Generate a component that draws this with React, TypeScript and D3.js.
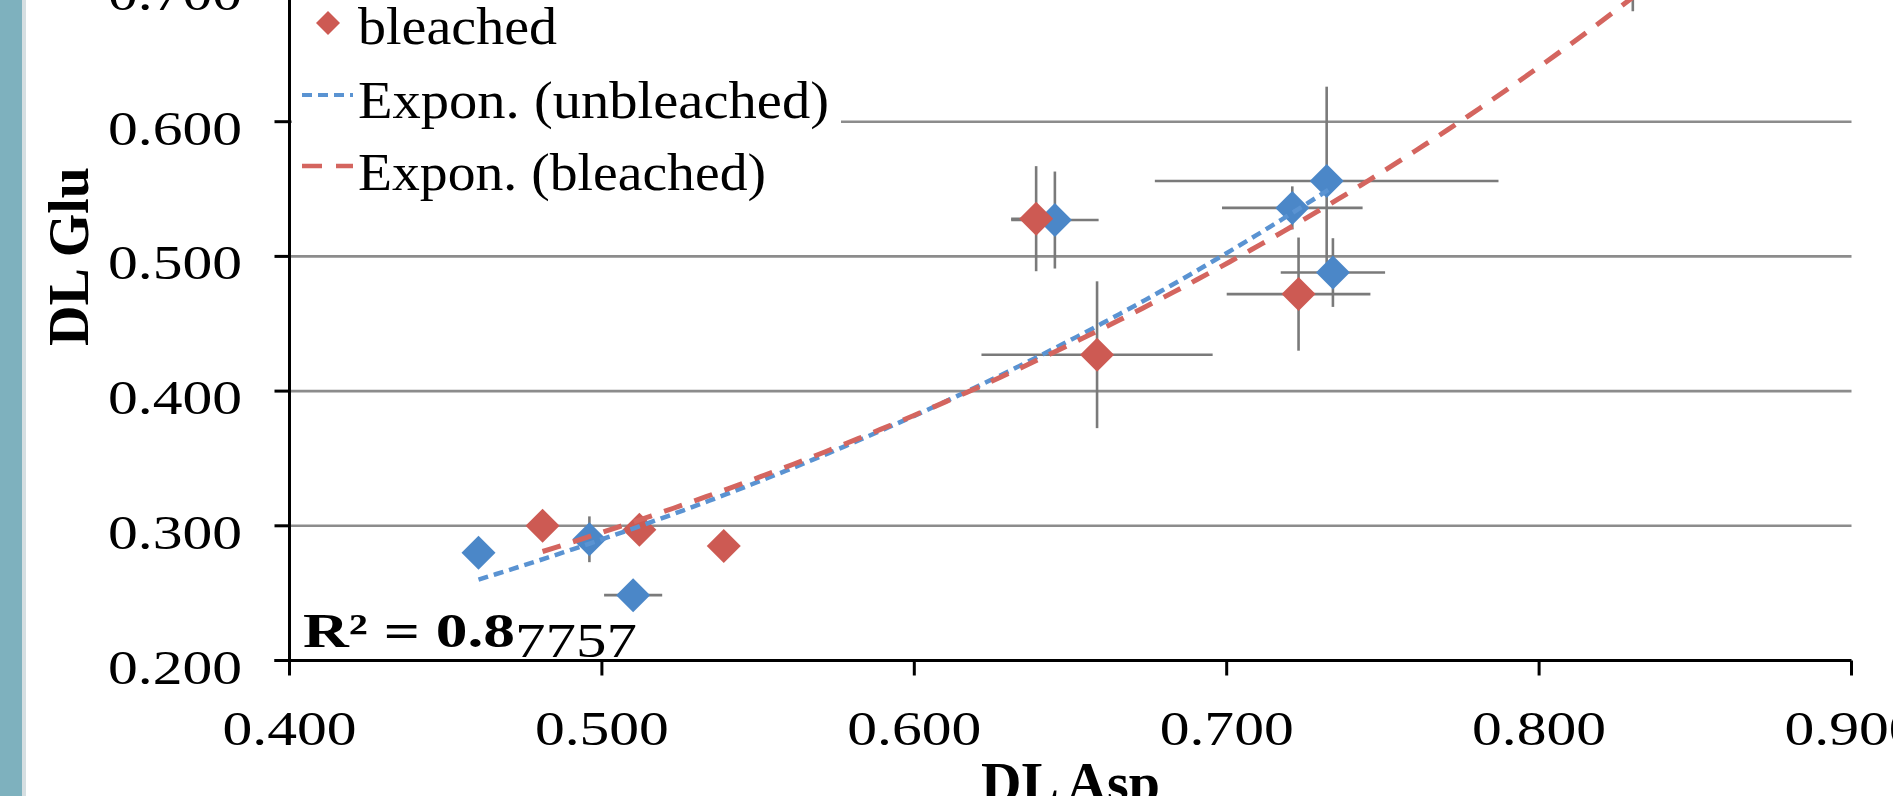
import React from 'react';
import * as d3 from 'd3';

// ---- data ----
const unbleachedX = [0.4605, 0.496, 0.51, 0.645, 0.721, 0.732, 0.734];
const unbleachedY = [0.28, 0.29, 0.2485, 0.527, 0.536, 0.556, 0.488];
const unbleachedXErr = [0, 0.004, 0.0093, 0.014, 0.0225, 0.055, 0.0167];
const unbleachedYErr = [0, 0.017, 0, 0.036, 0.016, 0.07, 0.0255];

const bleachedX = [0.481, 0.512, 0.539, 0.639, 0.6585, 0.723, 0.83];
const bleachedY = [0.3, 0.297, 0.285, 0.528, 0.427, 0.472, 0.705];
const bleachedXErr = [0, 0, 0, 0.008, 0.037, 0.023, 0];
const bleachedYErr = [0, 0, 0, 0.039, 0.0545, 0.042, 0.023];

const xTicks = [0.4, 0.5, 0.6, 0.7, 0.8, 0.9];
const yTicks = [0.2, 0.3, 0.4, 0.5, 0.6, 0.7];
const gridTicks = [0.3, 0.4, 0.5, 0.6, 0.7];
const xTitle = 'DL Asp';
const yTitle = 'DL Glu';
const legendLabels = ['unbleached', 'bleached', 'Expon. (unbleached)', 'Expon. (bleached)'];
const r2Bold = 'R² = 0.8';
const r2Rest = '7757';

const BLUE = '#4b87c8';
const RED = '#cd5a53';
const BLUE_TREND = '#5a93d2';
const RED_TREND = '#d4655f';
const GRID = '#8c8c8c';
const ERR = '#7a7a7a';

function expFit(xs: number[], ys: number[]) {
  const ly = ys.map(Math.log);
  const mx = d3.mean(xs)!;
  const my = d3.mean(ly)!;
  let sxy = 0, sxx = 0;
  xs.forEach((v, i) => {
    sxy += (v - mx) * (ly[i] - my);
    sxx += (v - mx) * (v - mx);
  });
  const b = sxy / sxx;
  const a = Math.exp(my - b * mx);
  return (v: number) => a * Math.exp(b * v);
}

export default function App() {
  const x = d3.scaleLinear().domain([0.4, 0.9]).range([289.5, 1851.5]);
  const y = d3.scaleLinear().domain([0.2, 0.7]).range([660.5, -13]);

  const series = [
    { xs: unbleachedX, ys: unbleachedY, xe: unbleachedXErr, ye: unbleachedYErr, color: BLUE },
    { xs: bleachedX, ys: bleachedY, xe: bleachedXErr, ye: bleachedYErr, color: RED },
  ];

  const diamond = (cx: number, cy: number, h: number) =>
    `M${cx},${cy - h}L${cx + h},${cy}L${cx},${cy + h}L${cx - h},${cy}Z`;

  const line = d3.line<number>().x((v) => x(v)).y((v) => y(v));
  const trendPath = (xs: number[], ys: number[]) => {
    const f = expFit(xs, ys);
    const [lo, hi] = d3.extent(xs) as [number, number];
    const pts = d3.range(0, 101).map((i) => lo + ((hi - lo) * i) / 100);
    return d3.line<number>().x((v) => x(v)).y((v) => y(f(v)))(pts) || '';
  };

  const tickFont = '"Liberation Serif", "Times New Roman", serif';

  return (
    <svg width={1893} height={796} style={{ position: 'absolute', left: 0, top: 0, background: '#fff' }}
      fontFamily={tickFont}>
      <rect x={0} y={0} width={1893} height={796} fill="#fff" />
      {/* left decorative band */}
      <rect x={0} y={0} width={22} height={796} fill="#7eb1be" />
      <rect x={22} y={0} width={4} height={796} fill="#d6dfe2" />

      {/* gridlines */}
      {gridTicks.map((t) => (
        <line key={'g' + t} x1={x(0.4)} x2={x(0.9)} y1={y(t)} y2={y(t)} stroke={GRID} strokeWidth={2.6} />
      ))}

      {/* legend background */}
      <rect x={292} y={-120} width={549} height={335} fill="#fff" />

      {/* error bars */}
      {series.map((s, si) =>
        s.xs.map((xv, i) => (
          <g key={`e${si}-${i}`} stroke={ERR} strokeWidth={2.6}>
            {s.xe[i] > 0 && (
              <line x1={x(xv - s.xe[i])} x2={x(xv + s.xe[i])} y1={y(s.ys[i])} y2={y(s.ys[i])} />
            )}
            {s.ye[i] > 0 && (
              <line x1={x(xv)} x2={x(xv)} y1={y(s.ys[i] - s.ye[i])} y2={y(s.ys[i] + s.ye[i])} />
            )}
          </g>
        ))
      )}

      {/* markers */}
      {series.map((s, si) =>
        s.xs.map((xv, i) => (
          <path key={`m${si}-${i}`} d={diamond(x(xv), y(s.ys[i]), 17)} fill={s.color} />
        ))
      )}

      {/* trendlines */}
      <path d={trendPath(unbleachedX, unbleachedY)} fill="none" stroke={BLUE_TREND} strokeWidth={4.5}
        strokeDasharray="10 6" />
      <path d={trendPath(bleachedX, bleachedY)} fill="none" stroke={RED_TREND} strokeWidth={5}
        strokeDasharray="19 13" />

      {/* axes */}
      <line x1={x(0.4)} x2={x(0.4)} y1={y(0.2)} y2={-20} stroke="#000" strokeWidth={3} />
      <line x1={x(0.4) - 15} x2={x(0.9)} y1={y(0.2)} y2={y(0.2)} stroke="#000" strokeWidth={3} />
      {yTicks.map((t) => (
        <g key={'yt' + t}>
          <line x1={x(0.4) - 15} x2={x(0.4)} y1={y(t)} y2={y(t)} stroke="#000" strokeWidth={3} />
          <text x={242} y={y(t) + 23} textAnchor="end" fontSize={48} textLength={134}
            lengthAdjust="spacingAndGlyphs">{d3.format('.3f')(t)}</text>
        </g>
      ))}
      {xTicks.map((t) => (
        <g key={'xt' + t}>
          <line x1={x(t)} x2={x(t)} y1={y(0.2)} y2={y(0.2) + 15} stroke="#000" strokeWidth={3} />
          <text x={x(t) - 67} y={745} fontSize={48} textLength={134}
            lengthAdjust="spacingAndGlyphs">{d3.format('.3f')(t)}</text>
        </g>
      ))}

      {/* axis titles */}
      <text transform={`translate(88,256.5) rotate(-90)`} textAnchor="middle" fontSize={56} fontWeight="bold">
        {yTitle}
      </text>
      <text x={(x(0.4) + x(0.9)) / 2} y={802} textAnchor="middle" fontSize={56} fontWeight="bold">
        {xTitle}
      </text>

      {/* legend */}
      <path d={diamond(328, 23 - 73, 12)} fill={BLUE} />
      <text x={358} y={44 - 73} fontSize={52}>{legendLabels[0]}</text>
      <path d={diamond(328, 23, 12)} fill={RED} />
      <text x={358} y={44} fontSize={52} textLength={199} lengthAdjust="spacingAndGlyphs">{legendLabels[1]}</text>
      <line x1={302} x2={353} y1={95} y2={95} stroke={BLUE_TREND} strokeWidth={4} strokeDasharray="10 6" />
      <text x={358} y={118} fontSize={52} textLength={471} lengthAdjust="spacingAndGlyphs">{legendLabels[2]}</text>
      <line x1={302} x2={353} y1={166} y2={166} stroke={RED_TREND} strokeWidth={4.5} strokeDasharray="20 14" />
      <text x={358} y={190} fontSize={52} textLength={408} lengthAdjust="spacingAndGlyphs">{legendLabels[3]}</text>

      {/* R² label */}
      <text x={303} y={647} fontSize={48} fontWeight="bold" textLength={212} lengthAdjust="spacingAndGlyphs">
        {r2Bold}
      </text>
      <text x={515} y={657} fontSize={48} textLength={122} lengthAdjust="spacingAndGlyphs">{r2Rest}</text>
    </svg>
  );
}
